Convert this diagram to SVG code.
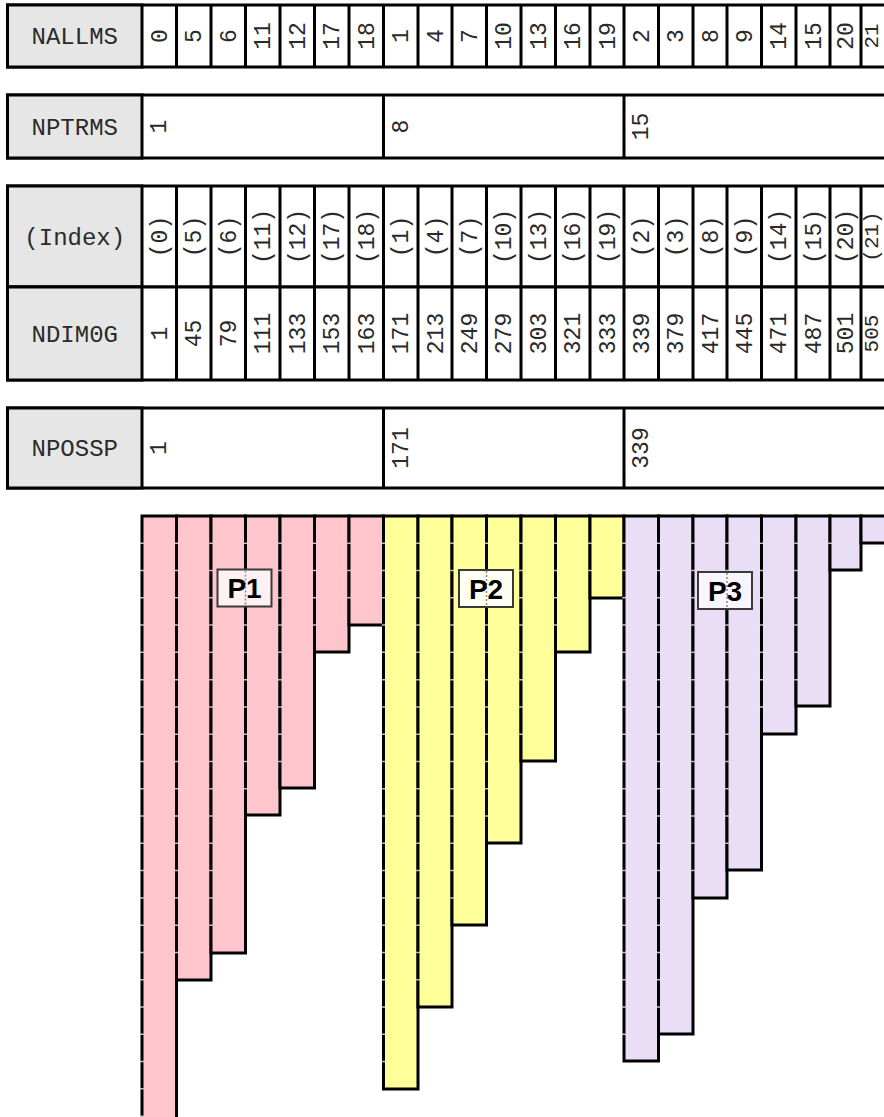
<svg xmlns="http://www.w3.org/2000/svg" width="884" height="1117" viewBox="0 0 884 1117">
<style>
.cell{fill:#ffffff;stroke:#000;stroke-width:3}
.head{fill:#e6e6e6;stroke:#000;stroke-width:3}
.grid{fill:none;stroke:#000;stroke-width:3}
.lbl{font-family:"Liberation Mono",monospace;font-size:24px;fill:#2a2a2a;text-anchor:middle}
.v{font-family:"Liberation Mono",monospace;font-size:23px;fill:#2a2a2a;text-anchor:middle}
.v .last{font-size:21px}
.p1{fill:#ffc5cd;stroke:#000;stroke-width:3}
.p2{fill:#ffff99;stroke:#000;stroke-width:3}
.p3{fill:#e9def6;stroke:#000;stroke-width:3}
.tick{stroke:#fff;stroke-opacity:0.75;stroke-width:3.5;stroke-dasharray:1.5 25.78;fill:none}
.box{stroke:#3a3a3a;stroke-width:2}
.boxline{stroke:#8a8a8a;stroke-width:1.5;stroke-dasharray:2 2}
.pt{font-family:"Liberation Sans",Arial,sans-serif;font-weight:bold;font-size:28px;fill:#000;text-anchor:middle}
</style>

<g id="row-nallms">
<rect class="cell" x="7.5" y="5" width="892.5" height="62"/>
<rect class="head" x="7.5" y="5" width="134.5" height="62"/>
<path class="grid" d="M176.5 5V67M211 5V67M245.5 5V67M280 5V67M314.5 5V67M349 5V67M383.5 5V67M418 5V67M452 5V67M486.5 5V67M521 5V67M555.5 5V67M590 5V67M624 5V67M658.5 5V67M693 5V67M727 5V67M761.5 5V67M796 5V67M830 5V67M861 5V67"/>
<text class="lbl" x="74.75" y="44">NALLMS</text>
<g class="v">
<text transform="translate(159.3,36) rotate(-90)" y="7.5">0</text>
<text transform="translate(193.8,36) rotate(-90)" y="7.5">5</text>
<text transform="translate(228.3,36) rotate(-90)" y="7.5">6</text>
<text transform="translate(262.8,36) rotate(-90)" y="7.5">11</text>
<text transform="translate(297.3,36) rotate(-90)" y="7.5">12</text>
<text transform="translate(331.8,36) rotate(-90)" y="7.5">17</text>
<text transform="translate(366.3,36) rotate(-90)" y="7.5">18</text>
<text transform="translate(400.8,36) rotate(-90)" y="7.5">1</text>
<text transform="translate(435,36) rotate(-90)" y="7.5">4</text>
<text transform="translate(469.3,36) rotate(-90)" y="7.5">7</text>
<text transform="translate(503.8,36) rotate(-90)" y="7.5">10</text>
<text transform="translate(538.3,36) rotate(-90)" y="7.5">13</text>
<text transform="translate(572.8,36) rotate(-90)" y="7.5">16</text>
<text transform="translate(607,36) rotate(-90)" y="7.5">19</text>
<text transform="translate(641.3,36) rotate(-90)" y="7.5">2</text>
<text transform="translate(675.8,36) rotate(-90)" y="7.5">3</text>
<text transform="translate(710,36) rotate(-90)" y="7.5">8</text>
<text transform="translate(744.3,36) rotate(-90)" y="7.5">9</text>
<text transform="translate(778.8,36) rotate(-90)" y="7.5">14</text>
<text transform="translate(813,36) rotate(-90)" y="7.5">15</text>
<text transform="translate(845.5,36) rotate(-90)" y="7.5">20</text>
<text class="last" transform="translate(871,36) rotate(-90)" y="7">21</text>
</g>
</g>

<g id="row-nptrms">
<rect class="cell" x="7.5" y="95" width="892.5" height="63"/>
<rect class="head" x="7.5" y="95" width="134.5" height="63"/>
<path class="grid" d="M383.5 95V158M624 95V158"/>
<text class="lbl" x="74.75" y="134.5">NPTRMS</text>
<g class="v">
<text transform="translate(158.5,126.5) rotate(-90)" y="7.5">1</text>
<text transform="translate(400,126.5) rotate(-90)" y="7.5">8</text>
<text transform="translate(640,126.5) rotate(-90)" y="7.5">15</text>
</g>
</g>

<g id="row-index">
<rect class="cell" x="7.5" y="186" width="892.5" height="101"/>
<rect class="head" x="7.5" y="186" width="134.5" height="101"/>
<path class="grid" d="M176.5 186V287M211 186V287M245.5 186V287M280 186V287M314.5 186V287M349 186V287M383.5 186V287M418 186V287M452 186V287M486.5 186V287M521 186V287M555.5 186V287M590 186V287M624 186V287M658.5 186V287M693 186V287M727 186V287M761.5 186V287M796 186V287M830 186V287M861 186V287"/>
<text class="lbl" x="74.75" y="244.5">(Index)</text>
<g class="v">
<text transform="translate(159.3,236.5) rotate(-90)" y="7.5">(0)</text>
<text transform="translate(193.8,236.5) rotate(-90)" y="7.5">(5)</text>
<text transform="translate(228.3,236.5) rotate(-90)" y="7.5">(6)</text>
<text transform="translate(262.8,236.5) rotate(-90)" y="7.5">(11)</text>
<text transform="translate(297.3,236.5) rotate(-90)" y="7.5">(12)</text>
<text transform="translate(331.8,236.5) rotate(-90)" y="7.5">(17)</text>
<text transform="translate(366.3,236.5) rotate(-90)" y="7.5">(18)</text>
<text transform="translate(400.8,236.5) rotate(-90)" y="7.5">(1)</text>
<text transform="translate(435,236.5) rotate(-90)" y="7.5">(4)</text>
<text transform="translate(469.3,236.5) rotate(-90)" y="7.5">(7)</text>
<text transform="translate(503.8,236.5) rotate(-90)" y="7.5">(10)</text>
<text transform="translate(538.3,236.5) rotate(-90)" y="7.5">(13)</text>
<text transform="translate(572.8,236.5) rotate(-90)" y="7.5">(16)</text>
<text transform="translate(607,236.5) rotate(-90)" y="7.5">(19)</text>
<text transform="translate(641.3,236.5) rotate(-90)" y="7.5">(2)</text>
<text transform="translate(675.8,236.5) rotate(-90)" y="7.5">(3)</text>
<text transform="translate(710,236.5) rotate(-90)" y="7.5">(8)</text>
<text transform="translate(744.3,236.5) rotate(-90)" y="7.5">(9)</text>
<text transform="translate(778.8,236.5) rotate(-90)" y="7.5">(14)</text>
<text transform="translate(813,236.5) rotate(-90)" y="7.5">(15)</text>
<text transform="translate(845.5,236.5) rotate(-90)" y="7.5">(20)</text>
<text class="last" transform="translate(871,236.5) rotate(-90)" y="7">(21)</text>
</g>
</g>

<g id="row-ndim0g">
<rect class="cell" x="7.5" y="287" width="892.5" height="93"/>
<rect class="head" x="7.5" y="287" width="134.5" height="93"/>
<path class="grid" d="M176.5 287V380M211 287V380M245.5 287V380M280 287V380M314.5 287V380M349 287V380M383.5 287V380M418 287V380M452 287V380M486.5 287V380M521 287V380M555.5 287V380M590 287V380M624 287V380M658.5 287V380M693 287V380M727 287V380M761.5 287V380M796 287V380M830 287V380M861 287V380"/>
<text class="lbl" x="74.75" y="341.5">NDIM0G</text>
<g class="v">
<text transform="translate(159.3,333.5) rotate(-90)" y="7.5">1</text>
<text transform="translate(193.8,333.5) rotate(-90)" y="7.5">45</text>
<text transform="translate(228.3,333.5) rotate(-90)" y="7.5">79</text>
<text transform="translate(262.8,333.5) rotate(-90)" y="7.5">111</text>
<text transform="translate(297.3,333.5) rotate(-90)" y="7.5">133</text>
<text transform="translate(331.8,333.5) rotate(-90)" y="7.5">153</text>
<text transform="translate(366.3,333.5) rotate(-90)" y="7.5">163</text>
<text transform="translate(400.8,333.5) rotate(-90)" y="7.5">171</text>
<text transform="translate(435,333.5) rotate(-90)" y="7.5">213</text>
<text transform="translate(469.3,333.5) rotate(-90)" y="7.5">249</text>
<text transform="translate(503.8,333.5) rotate(-90)" y="7.5">279</text>
<text transform="translate(538.3,333.5) rotate(-90)" y="7.5">303</text>
<text transform="translate(572.8,333.5) rotate(-90)" y="7.5">321</text>
<text transform="translate(607,333.5) rotate(-90)" y="7.5">333</text>
<text transform="translate(641.3,333.5) rotate(-90)" y="7.5">339</text>
<text transform="translate(675.8,333.5) rotate(-90)" y="7.5">379</text>
<text transform="translate(710,333.5) rotate(-90)" y="7.5">417</text>
<text transform="translate(744.3,333.5) rotate(-90)" y="7.5">445</text>
<text transform="translate(778.8,333.5) rotate(-90)" y="7.5">471</text>
<text transform="translate(813,333.5) rotate(-90)" y="7.5">487</text>
<text transform="translate(845.5,333.5) rotate(-90)" y="7.5">501</text>
<text class="last" transform="translate(871,333.5) rotate(-90)" y="7">505</text>
</g>
</g>

<g id="row-npossp">
<rect class="cell" x="7.5" y="408" width="892.5" height="80"/>
<rect class="head" x="7.5" y="408" width="134.5" height="80"/>
<path class="grid" d="M383.5 408V488M624 408V488"/>
<text class="lbl" x="74.75" y="456">NPOSSP</text>
<g class="v">
<text transform="translate(158.5,448) rotate(-90)" y="7.5">1</text>
<text transform="translate(400,448) rotate(-90)" y="7.5">171</text>
<text transform="translate(640,448) rotate(-90)" y="7.5">339</text>
</g>
</g>

<g id="bars-p1">
<rect class="p1" x="142" y="516" width="34.5" height="604"/>
<rect class="p1" x="176.5" y="516" width="34.5" height="464"/>
<rect class="p1" x="211" y="516" width="34.5" height="437"/>
<rect class="p1" x="245.5" y="516" width="34.5" height="299"/>
<rect class="p1" x="280" y="516" width="34.5" height="272"/>
<rect class="p1" x="314.5" y="516" width="34.5" height="136"/>
<rect class="p1" x="349" y="516" width="34.5" height="109"/>
</g>

<g id="bars-p2">
<rect class="p2" x="383.5" y="516" width="34.5" height="573"/>
<rect class="p2" x="418" y="516" width="34" height="491"/>
<rect class="p2" x="452" y="516" width="34.5" height="409"/>
<rect class="p2" x="486.5" y="516" width="34.5" height="327"/>
<rect class="p2" x="521" y="516" width="34.5" height="245"/>
<rect class="p2" x="555.5" y="516" width="34.5" height="136"/>
<rect class="p2" x="590" y="516" width="34" height="82"/>
</g>

<g id="bars-p3">
<rect class="p3" x="624" y="516" width="34.5" height="545"/>
<rect class="p3" x="658.5" y="516" width="34.5" height="518"/>
<rect class="p3" x="693" y="516" width="34" height="382"/>
<rect class="p3" x="727" y="516" width="34.5" height="354"/>
<rect class="p3" x="761.5" y="516" width="34.5" height="218"/>
<rect class="p3" x="796" y="516" width="34" height="190"/>
<rect class="p3" x="830" y="516" width="31" height="54"/>
<rect class="p3" x="861" y="516" width="40" height="27"/>
</g>

<g id="ticks">
<path class="tick" d="M142 542.5V1117M176.5 542.5V976M211 542.5V949M245.5 542.5V811M280 542.5V784M314.5 542.5V648M349 542.5V621M383.5 542.5V1085M418 542.5V1003M452 542.5V921M486.5 542.5V839M521 542.5V757M555.5 542.5V648M590 542.5V594M624 542.5V1057M658.5 542.5V1030M693 542.5V894M727 542.5V866M761.5 542.5V730M796 542.5V702M830 542.5V566"/>
</g>

<g id="label-p1">
<rect class="box" x="217.5" y="569.5" width="54" height="37" fill="#fdf1f3"/>
<line class="boxline" x1="245.5" y1="570.5" x2="245.5" y2="605.5"/>
<text class="pt" x="244.5" y="598">P1</text>
</g>
<g id="label-p2">
<rect class="box" x="459" y="570" width="54" height="37" fill="#fffff2"/>
<line class="boxline" x1="486.5" y1="571" x2="486.5" y2="606"/>
<text class="pt" x="486" y="598.5">P2</text>
</g>
<g id="label-p3">
<rect class="box" x="698" y="572" width="54" height="37" fill="#f8f5fd"/>
<line class="boxline" x1="727" y1="573" x2="727" y2="608"/>
<text class="pt" x="725" y="600.5">P3</text>
</g>

<g id="connectors"></g>
</svg>
